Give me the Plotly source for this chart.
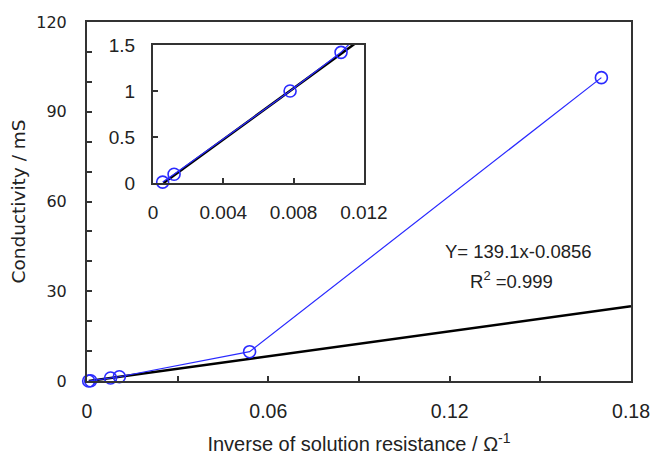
import plotly.graph_objects as go

# Data
x_inv_r = [0.00055, 0.0012, 0.0078, 0.0107, 0.0538, 0.1702]
conductivity = [0.01, 0.095, 1.00, 1.42, 9.8, 101.4]

fit_x = [0.0006, 0.18]
fit_y = [0.0, 24.95]

main_x_ticks = [0, 0.06, 0.12, 0.18]
main_x_labels = ["0", "0.06", "0.12", "0.18"]
main_x_minor = [0.03, 0.09, 0.15]
main_y_ticks = [0, 30, 60, 90, 120]
main_y_labels = ["0", "30", "60", "90", "120"]
main_y_minor = [10, 20, 40, 50, 70, 80, 100, 110]

inset_x_ticks = [0, 0.004, 0.008, 0.012]
inset_x_labels = ["0", "0.004", "0.008", "0.012"]
inset_y_ticks = [0, 0.5, 1, 1.5]
inset_y_labels = ["0", "0.5", "1", "1.5"]

eq_text = "Y= 139.1x-0.0856"
r2_text = "R<sup>2</sup> =0.999"

BLUE = "#2a2aff"
AX = "#333333"
TXT = "#222222"
ARIAL = "Liberation Sans, Arial, sans-serif"
DEJAVU = "DejaVu Sans, sans-serif"

fig = go.Figure()

# main plot
fig.add_trace(go.Scatter(x=fit_x, y=fit_y, mode="lines",
                         line=dict(color="black", width=2.5),
                         xaxis="x", yaxis="y", showlegend=False))
fig.add_trace(go.Scatter(x=x_inv_r, y=conductivity, mode="lines+markers",
                         line=dict(color=BLUE, width=1.2),
                         marker=dict(symbol="circle-open", size=12, color=BLUE,
                                     line=dict(width=1.6, color=BLUE)),
                         cliponaxis=False,
                         xaxis="x", yaxis="y", showlegend=False))
# inset
fig.add_trace(go.Scatter(x=fit_x, y=fit_y, mode="lines",
                         line=dict(color="black", width=2.5),
                         xaxis="x2", yaxis="y2", showlegend=False))
fig.add_trace(go.Scatter(x=x_inv_r, y=conductivity, mode="lines+markers",
                         line=dict(color=BLUE, width=1.2),
                         marker=dict(symbol="circle-open", size=12, color=BLUE,
                                     line=dict(width=1.6, color=BLUE)),
                         cliponaxis=False,
                         xaxis="x2", yaxis="y2", showlegend=False))

common = dict(showgrid=False, zeroline=False, showline=True, linecolor=AX,
              linewidth=2, mirror=True, ticks="inside", ticklen=5,
              tickwidth=1.5, tickcolor=AX, tickmode="array", automargin=False)
minor_common = dict(ticks="inside", ticklen=5, tickwidth=1.5, tickcolor=AX,
                    showgrid=False, tickmode="array")

fig.update_layout(
    width=656, height=455,
    margin=dict(l=87, r=25, t=22, b=74, autoexpand=False),
    paper_bgcolor="white", plot_bgcolor="white",
    xaxis=dict(common, domain=[0, 1], range=[0, 0.18],
               tickvals=main_x_ticks, ticktext=main_x_labels,
               minor=dict(minor_common, tickvals=main_x_minor),
               tickfont=dict(family=ARIAL, size=19.5, color=TXT),
               ticklabelstandoff=12,
               title=dict(text="Inverse of solution resistance / Ω<sup>-1</sup>",
                          font=dict(family=ARIAL, size=20, color=TXT),
                          standoff=22)),
    yaxis=dict(common, domain=[0, 1], range=[0, 120],
               tickvals=main_y_ticks, ticktext=main_y_labels,
               minor=dict(minor_common, tickvals=main_y_minor),
               tickfont=dict(family=DEJAVU, size=16, color=TXT),
               ticklabelstandoff=15,
               title=dict(text="Conductivity / mS",
                          font=dict(family=DEJAVU, size=18.5, color=TXT),
                          standoff=6)),
    xaxis2=dict(common, domain=[0.1213, 0.509], range=[0, 0.012], anchor="y2",
                tickvals=inset_x_ticks, ticktext=inset_x_labels,
                tickfont=dict(family=ARIAL, size=19, color=TXT),
                ticklabelstandoff=11),
    yaxis2=dict(common, domain=[0.5515, 0.936], range=[0, 1.5], anchor="x2",
                tickvals=inset_y_ticks, ticktext=inset_y_labels,
                tickfont=dict(family=ARIAL, size=19, color=TXT),
                ticklabelstandoff=12),
    annotations=[
        dict(x=0.1427, y=43.4, xref="x", yref="y", text=eq_text, showarrow=False,
             font=dict(family=ARIAL, size=18.5, color=TXT)),
        dict(x=0.1403, y=33.8, xref="x", yref="y", text=r2_text, showarrow=False,
             font=dict(family=ARIAL, size=18.5, color=TXT)),
    ],
)

fig.write_html("out.html", config={"displayModeBar": False},
               post_script="document.body.style.margin='0';document.body.style.padding='0';")
